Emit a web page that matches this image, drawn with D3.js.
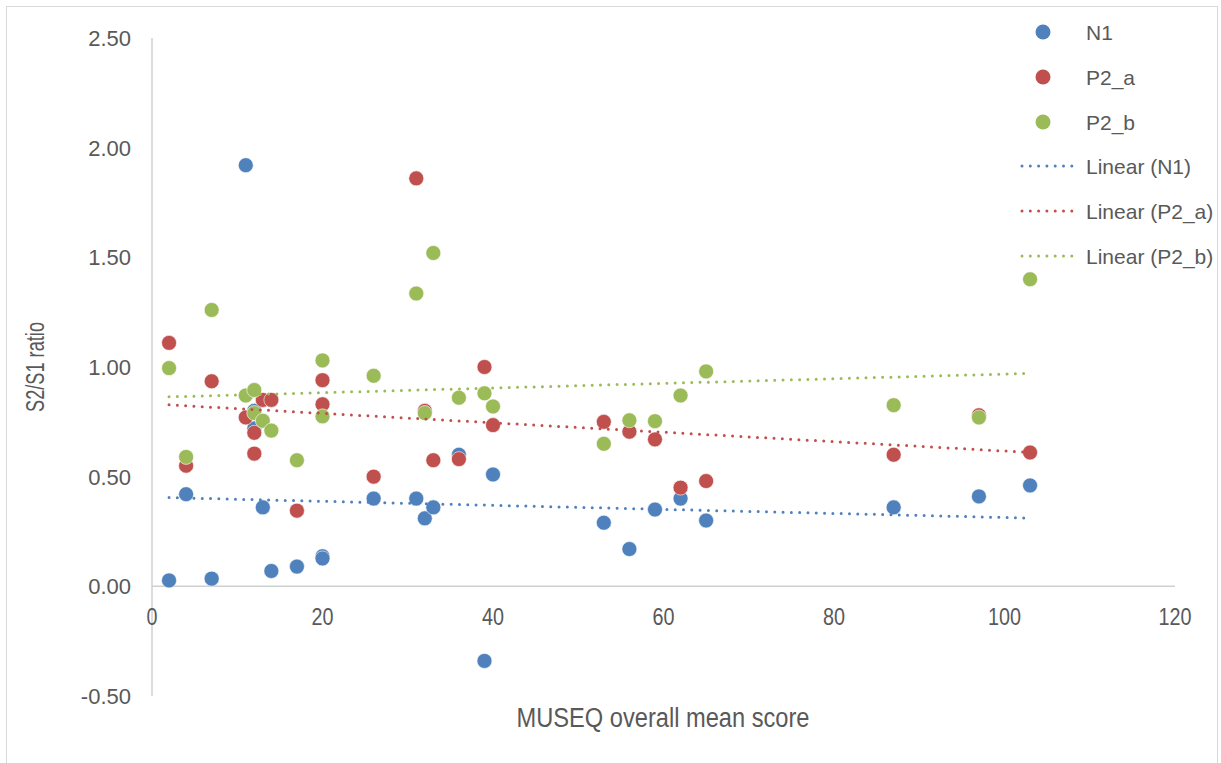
<!DOCTYPE html>
<html>
<head>
<meta charset="utf-8">
<script src="https://cdn.jsdelivr.net/npm/d3@7"></script>
<style>
  body { margin: 0; background: #fff; }
  svg { display: block; }
  text { fill: #595959; }
</style>
</head>
<body>
<svg width="1221" height="763"></svg>
<script>
// MUSEQ overall mean score (shared by all three series)
var scores = [2, 4, 7, 11, 12, 12, 13, 14, 17, 20, 20, 26, 31, 32, 33, 36, 39, 40, 53, 56, 59, 62, 65, 87, 97, 103];

// S2/S1 ratio per series
var n1 = [0.027, 0.42, 0.035, 1.92, 0.80, 0.72, 0.36, 0.07, 0.09, 0.137, 0.127, 0.40, 0.40, 0.31, 0.36, 0.60, -0.34, 0.51, 0.29, 0.17, 0.35, 0.40, 0.30, 0.36, 0.41, 0.46];
var p2a = [1.11, 0.55, 0.935, 0.77, 0.70, 0.605, 0.85, 0.85, 0.345, 0.94, 0.83, 0.50, 1.86, 0.80, 0.575, 0.58, 1.00, 0.735, 0.75, 0.705, 0.67, 0.45, 0.48, 0.60, 0.78, 0.61];
var p2b = [0.995, 0.59, 1.26, 0.87, 0.895, 0.79, 0.755, 0.71, 0.575, 1.03, 0.775, 0.96, 1.335, 0.79, 1.52, 0.86, 0.88, 0.82, 0.65, 0.757, 0.753, 0.87, 0.98, 0.826, 0.77, 1.40];

var seriesNames = ["N1", "P2_a", "P2_b"];
var seriesColors = ["#4f81bd", "#c0504d", "#9bbb59"];
var xTicks = [0, 20, 40, 60, 80, 100, 120];
var yTicks = [-0.5, 0, 0.5, 1, 1.5, 2, 2.5];

var series = [n1, p2a, p2b].map(function (vals, i) {
  return {
    name: seriesNames[i],
    color: seriesColors[i],
    points: vals.map(function (v, j) { return { x: scores[j], y: v }; })
  };
});

var svg = d3.select("svg");

var x = d3.scaleLinear().domain([0, 120]).range([152, 1175]);
var y = d3.scaleLinear().domain([-0.5, 2.5]).range([696, 38]);

// chart frame
svg.append("rect")
  .attr("x", 6.5).attr("y", 6.5)
  .attr("width", 1211).attr("height", 800)
  .attr("fill", "none").attr("stroke", "#d9d9d9");

// axis lines
svg.append("line")
  .attr("x1", x(0)).attr("x2", x(0))
  .attr("y1", y(2.5)).attr("y2", y(-0.5))
  .attr("stroke", "#d0d0d0").attr("stroke-width", 1.5);
svg.append("line")
  .attr("x1", x(0)).attr("x2", x(120))
  .attr("y1", y(0)).attr("y2", y(0))
  .attr("stroke", "#d0d0d0").attr("stroke-width", 1.5);

// tick labels
svg.selectAll(".ytick")
  .data(yTicks).enter().append("text")
  .attr("class", "ytick")
  .attr("x", 131)
  .attr("y", function (d) { return y(d) + 8; })
  .attr("text-anchor", "end")
  .style("font-family", "'Liberation Sans', Arial, sans-serif")
  .style("font-size", "22px")
  .text(function (d) { return d3.format(".2f")(d).replace("\u2212", "-"); });

svg.selectAll(".xtick")
  .data(xTicks).enter().append("text")
  .attr("class", "xtick")
  .attr("x", function (d) { return x(d); })
  .attr("y", 625)
  .attr("text-anchor", "middle")
  .attr("textLength", function (d) { return String(d).length * 11; })
  .attr("lengthAdjust", "spacingAndGlyphs")
  .style("font-family", "'Liberation Sans', Arial, sans-serif")
  .style("font-size", "23px")
  .text(function (d) { return d; });

// axis titles
svg.append("text")
  .attr("x", 663).attr("y", 727)
  .attr("text-anchor", "middle")
  .attr("textLength", 293)
  .attr("lengthAdjust", "spacingAndGlyphs")
  .style("font-family", "'Liberation Sans', Arial, sans-serif")
  .style("font-size", "27px")
  .text("MUSEQ overall mean score");

svg.append("text")
  .attr("transform", "translate(44,367) rotate(-90)")
  .attr("text-anchor", "middle")
  .attr("textLength", 90)
  .attr("lengthAdjust", "spacingAndGlyphs")
  .style("font-family", "'Liberation Sans', Arial, sans-serif")
  .style("font-size", "25px")
  .text("S2/S1 ratio");

// least squares trend line
function linearFit(pts) {
  var mx = d3.mean(pts, function (p) { return p.x; });
  var my = d3.mean(pts, function (p) { return p.y; });
  var sxy = d3.sum(pts, function (p) { return (p.x - mx) * (p.y - my); });
  var sxx = d3.sum(pts, function (p) { return (p.x - mx) * (p.x - mx); });
  var b = sxy / sxx, a = my - b * mx;
  var ext = d3.extent(pts, function (p) { return p.x; });
  return ext.map(function (v) { return { x: v, y: a + b * v }; });
}

var line = d3.line()
  .x(function (d) { return x(d.x); })
  .y(function (d) { return y(d.y); });

// markers
series.forEach(function (s) {
  svg.append("g").selectAll("circle")
    .data(s.points).enter().append("circle")
    .attr("cx", function (d) { return x(d.x); })
    .attr("cy", function (d) { return y(d.y); })
    .attr("r", 7.5)
    .attr("fill", s.color)
    .attr("stroke", "#fff")
    .attr("stroke-width", 0.6);
});

// trend lines on top
series.forEach(function (s) {
  svg.append("path")
    .datum(linearFit(s.points))
    .attr("d", line)
    .attr("fill", "none")
    .attr("stroke", s.color)
    .attr("stroke-width", 3)
    .attr("stroke-linecap", "round")
    .attr("stroke-dasharray", "0 8.3");
});

// legend
var legend = svg.append("g")
  .style("font-family", "'Liberation Sans', Arial, sans-serif")
  .style("font-size", "21px");

series.forEach(function (s, i) {
  var ly = 32 + i * 45;
  legend.append("circle")
    .attr("cx", 1043).attr("cy", ly).attr("r", 7.5)
    .attr("fill", s.color);
  legend.append("text")
    .attr("x", 1086).attr("y", ly + 7.5)
    .text(s.name);
});

series.forEach(function (s, i) {
  var ly = 166 + i * 45;
  legend.append("line")
    .attr("x1", 1022).attr("x2", 1077)
    .attr("y1", ly).attr("y2", ly)
    .attr("stroke", s.color)
    .attr("stroke-width", 3)
    .attr("stroke-linecap", "round")
    .attr("stroke-dasharray", "0 8.3");
  legend.append("text")
    .attr("x", 1086).attr("y", ly + 7.5)
    .text("Linear (" + s.name + ")");
});
</script>
</body>
</html>
